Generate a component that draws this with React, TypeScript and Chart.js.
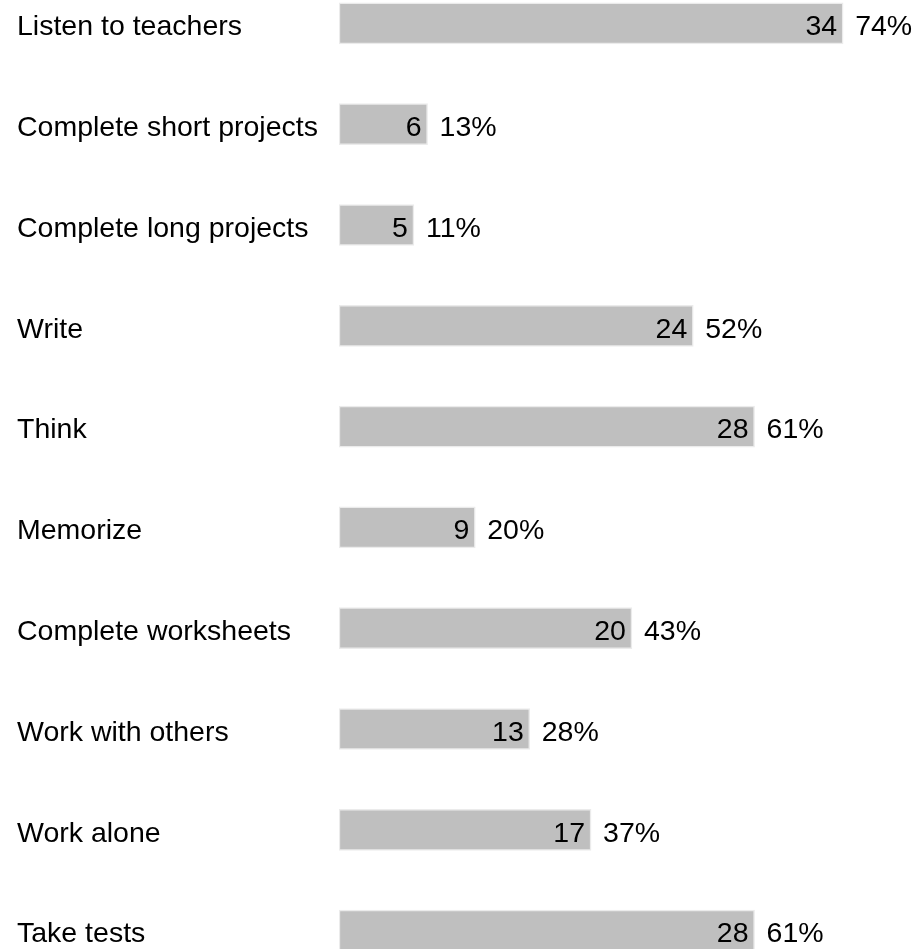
import React, { useEffect, useRef } from "react";
import { Chart, registerables } from "chart.js";

Chart.register(...registerables);

const categories = [
  "Listen to teachers",
  "Complete short projects",
  "Complete long projects",
  "Write",
  "Think",
  "Memorize",
  "Complete worksheets",
  "Work with others",
  "Work alone",
  "Take tests",
];
const counts = [34, 6, 5, 24, 28, 9, 20, 13, 17, 28];
const percents = [74, 13, 11, 52, 61, 20, 43, 28, 37, 61];

const FONT = "'Liberation Sans', Arial, Helvetica, sans-serif";
const FONT_SIZE = 28.5;

const valueLabels = {
  id: "valueLabels",
  afterDatasetsDraw(chart: any) {
    const ctx = chart.ctx;
    const meta = chart.getDatasetMeta(0);
    ctx.save();
    ctx.font = `${FONT_SIZE}px ${FONT}`;
    ctx.fillStyle = "#000";
    ctx.textBaseline = "middle";
    meta.data.forEach((bar: any, i: number) => {
      const { x, y } = bar.getProps(["x", "y"], true);
      ctx.textAlign = "right";
      ctx.fillText(String(counts[i]), x - 6, y + 4);
      ctx.textAlign = "left";
      ctx.fillText(`${percents[i]}%`, x + 12, y + 4);
    });
    ctx.restore();
  },
};

export default function App() {
  const ref = useRef<HTMLCanvasElement | null>(null);

  useEffect(() => {
    if (!ref.current) return;
    const chart = new Chart(ref.current, {
      type: "bar",
      data: {
        labels: categories,
        datasets: [
          {
            data: percents,
            backgroundColor: "#bfbfbf",
            borderColor: "#ebebeb",
            borderWidth: 1.5,
            borderSkipped: false,
            barThickness: 41,
          },
        ],
      },
      options: {
        indexAxis: "y",
        animation: false,
        responsive: false,
        maintainAspectRatio: false,
        layout: { padding: { left: 17, right: 34, top: 30, bottom: 30 } },
        plugins: {
          legend: { display: false },
          tooltip: { enabled: false },
          title: { display: false },
        },
        scales: {
          x: {
            display: false,
            min: 0,
            max: 80,
            grid: { display: false },
          },
          y: {
            position: "left",
            grid: { display: false },
            border: { display: false },
            ticks: {
              crossAlign: "far",
              color: "#000",
              labelOffset: 4,
              autoSkip: false,
              font: { family: FONT, size: FONT_SIZE },
            },
            afterFit(scale: any) {
              scale.width = 322;
            },
          },
        },
      },
      plugins: [valueLabels],
    });
    return () => chart.destroy();
  }, []);

  return (
    <div
      style={{
        position: "absolute",
        left: 0,
        top: "-56.7px",
        width: "918px",
        height: "1068px",
      }}
    >
      <canvas ref={ref} width={918} height={1068} style={{ display: "block" }} />
    </div>
  );
}
